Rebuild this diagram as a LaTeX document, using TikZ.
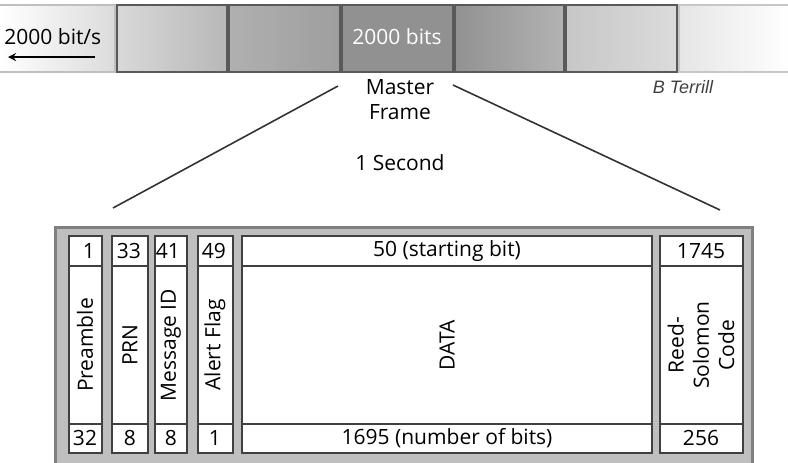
\documentclass[tikz,border=0pt]{standalone}
\usepackage{fontspec}
\setmainfont{Open Sans}
\newfontfamily\signfont{Liberation Sans}

\begin{document}
\begin{tikzpicture}[x=0.5pt, y=-0.5pt, >=stealth,
  font=\fontsize{10.5}{12.6}\selectfont,
  field/.style={draw=black!75, fill=white, line width=0.8pt},
  frame/.style={draw=black!65, line width=0.8pt}]
\clip (0,0) rectangle (788,462);

% ===== TOP strip of master frames =====
\shade[left color=white, right color=black!14] (0,5) rectangle (115,72);
\draw[black!25, line width=0.8pt] (0,5) -- (115,5) -- (115,72) -- (0,72);
\shade[left color=black!15, right color=black!28] (117,5) rectangle (227,72);
\draw[frame] (117,5) rectangle (227,72);
\shade[left color=black!31, right color=black!38] (229,5) rectangle (340,72);
\draw[frame] (229,5) rectangle (340,72);
% the master frame itself
\draw[frame, fill=black!43] (342,5) rectangle (453,72);
\shade[left color=black!43, right color=black!30] (455,5) rectangle (564,72);
\draw[frame] (455,5) rectangle (564,72);
\shade[left color=black!22, right color=black!14] (566,5) rectangle (677,72);
\draw[frame] (566,5) rectangle (677,72);
\shade[left color=black!10, right color=white] (679,5) rectangle (790,72);
\draw[black!22, line width=0.8pt] (790,5) -- (679,5) -- (679,72) -- (790,72);

% rate and direction
\node[anchor=west, inner sep=0pt] (rate) at (4,37) {2000 bit/s};
\coordinate (arrowA) at (95,57);
\coordinate (arrowB) at (8,57);
\draw[->, thick] (arrowA) -- (arrowB);
\node[white] (mfbits) at (397,37) {2000 bits};

% labels under the strip
\node[align=center] (master) at (400,100) {Master\\Frame};
\node (second) at (400,163) {1 Second};
\node[black!75] (author) at (683,87) {\signfont\itshape\fontsize{9}{10}\selectfont B Terrill};

% ===== BOTTOM frame layout =====
\draw[fill=black!25, draw=black!50, line width=1.5pt] (55,227) rectangle (752,480);

% zoom lines
\coordinate (zoomL) at (338,86);
\coordinate (zoomR) at (453,85);
\coordinate (boxL) at (113,208);
\coordinate (boxR) at (720,210);
\draw[thick, black!80] (zoomL) -- (boxL);
\draw[thick, black!80] (zoomR) -- (boxR);

% Preamble
\draw[field] (69,236) rectangle (102,453);
\draw[field] (69,266) -- (102,266) (69,424) -- (102,424);
\node[anchor=east] (preTop) at (102,251) {1};
\node[rotate=90] (pre) at (85,345) {Preamble};
\node (preBot) at (85,438) {32};
% PRN
\draw[field] (112,236) rectangle (148,453);
\draw[field] (112,266) -- (148,266) (112,424) -- (148,424);
\node[anchor=east] (prnTop) at (148,251) {33};
\node[rotate=90] (prn) at (130,345) {PRN};
\node (prnBot) at (130,438) {8};
% Message ID
\draw[field] (155,236) rectangle (187,453);
\draw[field] (155,266) -- (187,266) (155,424) -- (187,424);
\node[anchor=east] (msgTop) at (187,251) {41};
\node[rotate=90] (msg) at (171,345) {Message ID};
\node (msgBot) at (171,438) {8};
% Alert Flag
\draw[field] (198,236) rectangle (233,453);
\draw[field] (198,266) -- (233,266) (198,424) -- (233,424);
\node[anchor=east] (alertTop) at (233,251) {49};
\node[rotate=90] (alert) at (215,345) {Alert Flag};
\node (alertBot) at (215,438) {1};
% DATA
\draw[field] (242,236) rectangle (652,453);
\draw[field] (242,266) -- (652,266) (242,424) -- (652,424);
\node (dataTop) at (447,251) {50 (starting bit)};
\node[rotate=90] (data) at (447,345) {DATA};
\node (dataBot) at (447,438) {1695 (number of bits)};
% Reed-Solomon
\draw[field] (660,236) rectangle (743,453);
\draw[field] (660,266) -- (743,266) (660,424) -- (743,424);
\node (rsTop) at (701,251) {1745};
\node[rotate=90, align=center] (rs) at (701,345) {Reed-\\Solomon\\Code};
\node (rsBot) at (701,438) {256};
\end{tikzpicture}
\end{document}
